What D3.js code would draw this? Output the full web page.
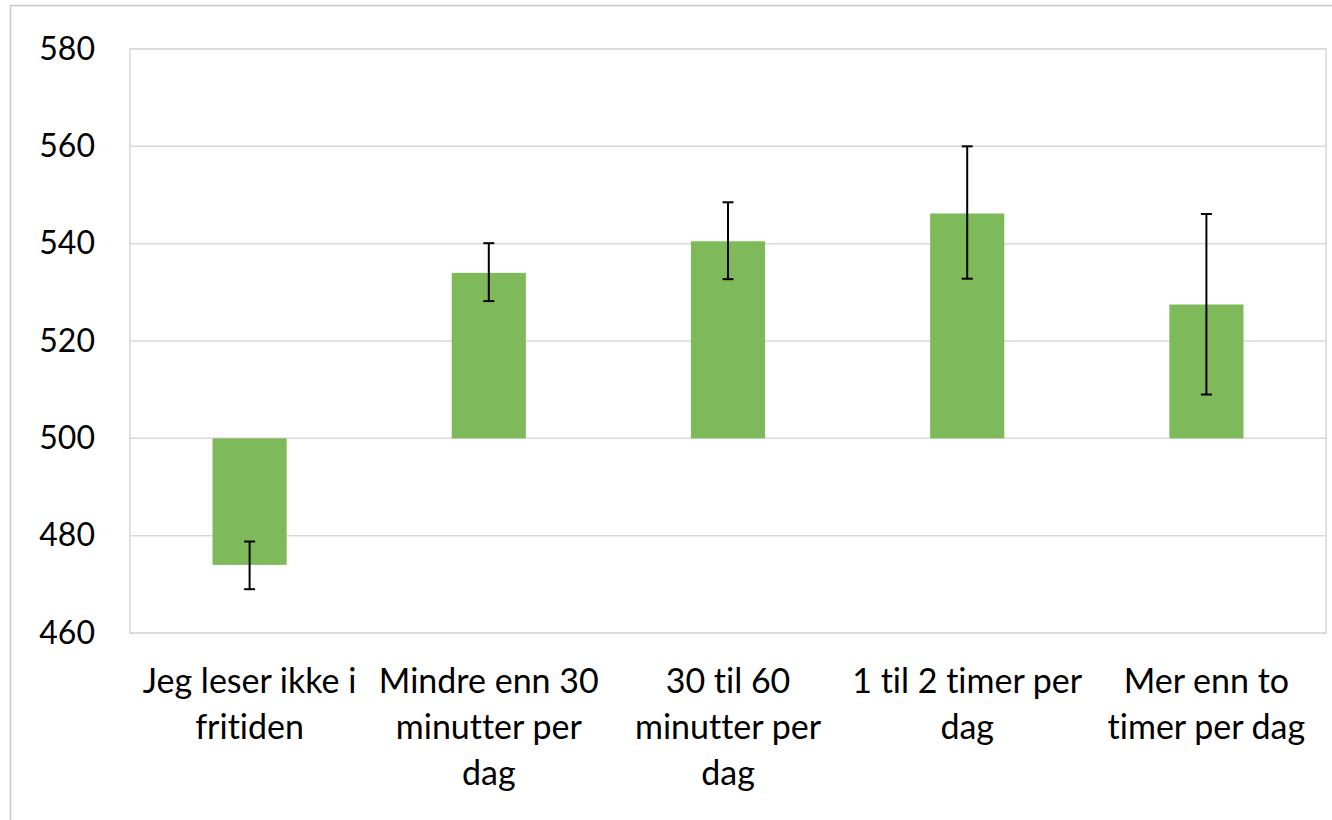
<!DOCTYPE html>
<html><head><meta charset="utf-8">
<script src="https://cdn.jsdelivr.net/npm/d3@7"></script>
<style>body{margin:0;background:#fff}svg{display:block}text{font-family:Lato,"Noto Sans",sans-serif;fill:#000;font-variant-ligatures:none;font-feature-settings:"liga" 0}</style>
</head><body><svg id="c" width="1332" height="820"></svg>
<script>
const categories = [
  ["Jeg leser ikke i", "fritiden"],
  ["Mindre enn 30", "minutter per", "dag"],
  ["30 til 60", "minutter per", "dag"],
  ["1 til 2 timer per", "dag"],
  ["Mer enn to", "timer per dag"]
];
const values = [474, 534, 540.5, 546.2, 527.5];
const errLow = [469, 528.2, 532.7, 532.8, 509];
const errHigh = [478.8, 540.1, 548.5, 560, 546.1];
const yTicks = [460, 480, 500, 520, 540, 560, 580];
const baseValue = 500;

const svg = d3.select("#c");
const W = 1332, H = 820;
const m = {left: 130, top: 49, right: 1326, bottom: 633};

// outer frame
svg.append("rect").attr("x", 10.5).attr("y", 5.5).attr("width", W + 20).attr("height", H + 20)
  .attr("fill", "none").attr("stroke", "#c8c8c8").attr("stroke-width", 1.5);

const x = d3.scaleBand().domain(d3.range(categories.length)).range([m.left, m.right]).paddingInner(0.69).paddingOuter(0.345);
const y = d3.scaleLinear().domain([460, 580]).range([m.bottom, m.top]);

// gridlines
svg.append("g").selectAll("line").data(yTicks).join("line")
  .attr("x1", m.left).attr("x2", m.right)
  .attr("y1", d => y(d)).attr("y2", d => y(d))
  .attr("stroke", "#d9d9d9").attr("stroke-width", 1.5);
// plot border
svg.append("rect").attr("x", m.left).attr("y", m.top).attr("width", m.right - m.left).attr("height", m.bottom - m.top)
  .attr("fill", "none").attr("stroke", "#d9d9d9").attr("stroke-width", 1.5);

// y tick labels
const yAxis = d3.axisLeft(y).tickValues(yTicks).tickSize(0).tickPadding(35);
const ga = svg.append("g").attr("transform", `translate(${m.left},0)`).call(yAxis);
ga.select(".domain").remove();
ga.selectAll("text").attr("font-size", 32).attr("font-family", "Lato").attr("fill", "#000");

// bars
svg.append("g").selectAll("rect").data(values).join("rect")
  .attr("x", (d, i) => x(i)).attr("width", x.bandwidth())
  .attr("y", d => y(Math.max(d, baseValue)))
  .attr("height", d => Math.abs(y(d) - y(baseValue)))
  .attr("fill", "#7fba5a");

// error bars
const eg = svg.append("g").attr("stroke", "#000").attr("stroke-width", 2);
values.forEach((v, i) => {
  const cx = x(i) + x.bandwidth() / 2;
  eg.append("line").attr("x1", cx).attr("x2", cx).attr("y1", y(errLow[i])).attr("y2", y(errHigh[i]));
  [errLow[i], errHigh[i]].forEach(e => {
    eg.append("line").attr("x1", cx - 5.5).attr("x2", cx + 5.5).attr("y1", y(e)).attr("y2", y(e));
  });
});

// category labels
const lg = svg.append("g");
categories.forEach((lines, i) => {
  const cx = x(i) + x.bandwidth() / 2;
  const t = lg.append("text").attr("text-anchor", "middle").attr("font-size", 34);
  lines.forEach((l, j) => t.append("tspan").attr("x", cx).attr("y", 693 + j * 46).text(l));
});
</script></body></html>
